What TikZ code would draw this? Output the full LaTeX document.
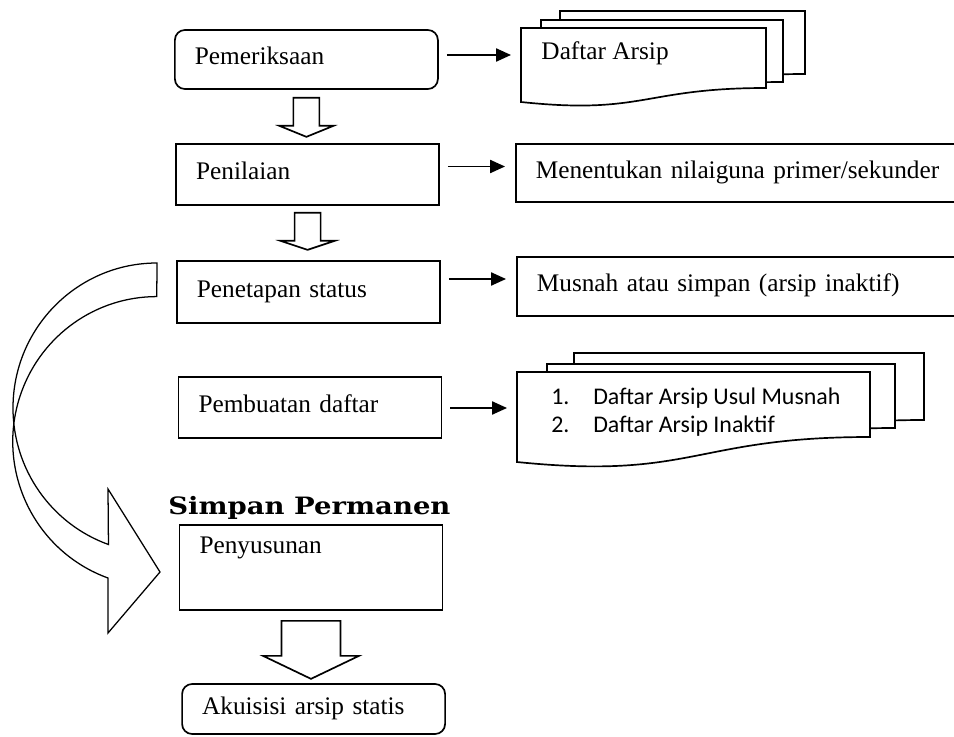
\documentclass[tikz,border=0pt]{standalone}
\usepackage{fontspec}
\usepackage{tikz}
\usetikzlibrary{calc,arrows.meta}
\setmainfont{Liberation Serif}
\newfontfamily\listfont{Carlito}
\newfontfamily\headfont{DejaVu Serif}[FakeStretch=1.15]

\tikzset{%
  stepbox/.style={draw, line width=1.2pt, align=left, text width=5.575cm, inner xsep=0.5cm, inner ysep=0pt, text height=0.42cm, text depth=0.15cm, font=\fontsize{18}{21}\selectfont},
  notebox/.style={stepbox, anchor=west, text width=14cm},
  lbl/.style={anchor=base west, inner sep=0pt, font=\fontsize{18}{21}\selectfont},
  sheet/.style={draw, line width=1.2pt, fill=white},
  link/.style={line width=1.2pt, -{Triangle[length=0.375cm, width=0.33cm]}, shorten <=0.2cm, shorten >=0.25cm},
  block/.style={line width=1.2pt},
  curvearrow/.style={line width=0.9pt},
}

\newcommand{\docsheet}[6]{%
\draw[sheet] (#1,#3) -- (#2,#3) -- (#2,#4) .. controls ({(#1+#2)/2},#4) and ({(#1+#2)/2},#6) .. (#1,#5) -- cycle;%
}
\newcommand{\hollowdown}[6]{%
\draw[block] ($(#1)+(-#3,-#2)$) -- ++(0,-#4) -- ++({#3-#5},0) -- ++(#5,-#6) -- ++(#5,#6) -- ++({#3-#5},0) -- ++(0,#4) -- cycle;%
}

\begin{document}
\begin{tikzpicture}%
\useasboundingbox (0,0) rectangle (23.85,-18.425);%
\clip (0,0) rectangle (23.85,-18.425);%
% left column
\node[stepbox, rounded corners=0.25cm, minimum height=1.475cm] (pem) at (7.66,-1.4875) {Pemeriksaan};%
\node[stepbox, minimum height=1.525cm] (nil) at (7.69,-4.3625) {Penilaian};%
\node[stepbox, minimum height=1.55cm] (pen) at (7.71,-7.3) {Penetapan status};%
\node[stepbox, minimum height=1.525cm] (pemb) at (7.75,-10.1875) {Pembuatan daftar};%
\node[lbl, font=\headfont\bfseries\fontsize{17}{20}\selectfont] (simpan) at (4.2,-12.85) {Simpan Permanen};%
\node[stepbox, minimum height=2.125cm, text depth=1.145cm] (peny) at (7.775,-14.1875) {Penyusunan};%
\node[stepbox, rounded corners=0.25cm, minimum height=1.25cm] (aku) at (7.84,-17.725) {Akuisisi arsip statis};%
% right column
\docsheet{14.0}{20.125}{-0.275}{-1.85}{-2.2}{-2.525}%
\docsheet{13.525}{19.575}{-0.5}{-2.05}{-2.4}{-2.725}%
\docsheet{13.025}{19.15}{-0.7}{-2.2}{-2.55}{-2.875}%
\node[lbl] (arsip) at (13.53,-1.5) {Daftar Arsip};%
\node[notebox, minimum height=1.45cm] (men) at (12.875,-4.325) {Menentukan nilaiguna primer/sekunder};%
\node[notebox, minimum height=1.475cm] (mus) at (12.9,-7.1625) {Musnah atau simpan (arsip inaktif)};%
\docsheet{14.35}{23.1}{-8.825}{-10.5}{-11.125}{-11.575}%
\docsheet{13.675}{22.375}{-9.1}{-10.7}{-11.325}{-11.775}%
\docsheet{12.925}{21.75}{-9.3}{-10.925}{-11.55}{-12.0}%
\node[lbl, font=\listfont\fontsize{17}{20}\selectfont] (lsta) at (13.775,-10.1) {\makebox[1.05cm][l]{1.}Daftar Arsip Usul Musnah};%
\node[lbl, font=\listfont\fontsize{17}{20}\selectfont] (lstb) at (13.775,-10.8) {\makebox[1.05cm][l]{2.}Daftar Arsip Inaktif};%
% arrows
\coordinate (docA) at (13.025,-1.375);%
\coordinate (docB) at (12.925,-10.2);%
\coordinate (nilout) at ([yshift=0.2cm]nil.east);%
\coordinate (penout) at ([yshift=0.325cm]pen.east);%
\draw[link] (pem.east |- docA) -- (docA);%
\draw[link] (nilout) -- (nilout -| men.west);%
\draw[link] (penout) -- (penout -| mus.west);%
\draw[link] (pemb.east |- docB) -- (docB);%
\hollowdown{pem.south}{0.2}{0.325}{0.7}{0.675}{0.275}%
\hollowdown{nil.south}{0.175}{0.325}{0.7}{0.675}{0.225}%
\hollowdown{peny.south}{0.25}{0.7375}{0.875}{1.2}{0.575}%
\draw[curvearrow] (3.925,-6.575) arc[start angle=90, end angle=250.3, x radius=3.6cm, y radius=3.625cm] -- (2.7,-12.225) -- (4,-14.3) -- (2.7,-15.825) -- (2.7,-14.45) arc[start angle=250.2, end angle=90, x radius=3.6cm, y radius=3.625cm] -- cycle;%
\end{tikzpicture}
\end{document}
